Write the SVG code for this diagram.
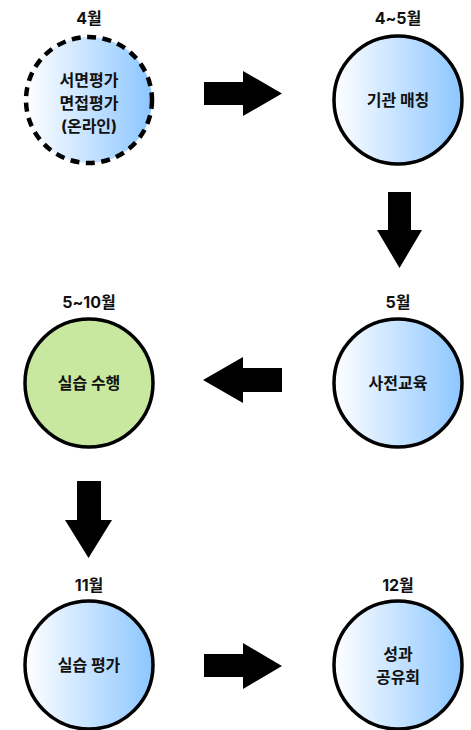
<svg xmlns="http://www.w3.org/2000/svg" width="471" height="730" viewBox="0 0 471 730">
<defs>
<linearGradient id="blue" x1="0" y1="0" x2="1" y2="0">
<stop offset="0" stop-color="#ffffff"/>
<stop offset="1" stop-color="#8cc6ff"/>
</linearGradient>
<style>
.c{fill:url(#blue);stroke:#000;stroke-width:3.5}
.g{fill:#c8e8a0;stroke:#000;stroke-width:3.5}
.d{fill:url(#blue);stroke:#000;stroke-width:4.5;stroke-dasharray:9 6.5}
text{font-family:Inter,"Noto Sans CJK KR",sans-serif;font-weight:700;font-size:16px;fill:#111;text-anchor:middle}
.a{fill:#000}
</style>
</defs>
<g id="n1">
<text x="89" y="24">4월</text>
<circle class="d" cx="89" cy="100" r="63"/>
<text x="89" y="86">서면평가</text>
<text x="89" y="109">면접평가</text>
<text x="89" y="132">(온라인)</text>
</g>
<g id="n2">
<text x="398" y="24">4~5월</text>
<circle class="c" cx="398" cy="100" r="64"/>
<text x="398" y="106">기관 매칭</text>
</g>
<g id="n3">
<text x="398" y="308">5월</text>
<circle class="c" cx="398" cy="383" r="64"/>
<text x="398" y="389">사전교육</text>
</g>
<g id="n4">
<text x="89" y="308">5~10월</text>
<circle class="g" cx="89" cy="383" r="64"/>
<text x="89" y="389">실습 수행</text>
</g>
<g id="n5">
<text x="89" y="591">11월</text>
<circle class="c" cx="89" cy="665" r="64"/>
<text x="89" y="671">실습 평가</text>
</g>
<g id="n6">
<text x="398" y="591">12월</text>
<circle class="c" cx="398" cy="665" r="64"/>
<text x="398" y="660">성과</text>
<text x="398" y="683">공유회</text>
</g>
<g id="connectors">
<polygon class="a" points="204,82 243,82 243,71 282,93.5 243,116 243,105 204,105"/>
<polygon class="a" points="388,192 411,192 411,230 422,230 399.5,268 377,230 388,230"/>
<polygon class="a" points="282,368 243,368 243,357 203,380 243,403 243,392 282,392"/>
<polygon class="a" points="77,481 101,481 101,520 112,520 88.5,558 65,520 77,520"/>
<polygon class="a" points="204,654 243,654 243,643 282,666 243,689 243,677 204,677"/>
</g>
</svg>
